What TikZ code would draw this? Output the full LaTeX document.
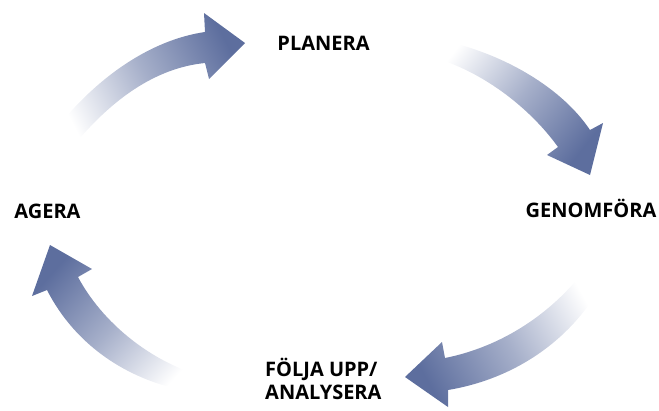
\documentclass[tikz,border=0pt]{standalone}
\usepackage{fontspec}
\setmainfont{Open Sans}
\definecolor{arrowblue}{RGB}{93,110,158}
\tikzset{
  lbl/.style={font=\fontsize{20}{23}\selectfont\bfseries, text=black, inner sep=0pt},
  arrowshade/.style={top color=arrowblue, bottom color=white, middle color=arrowblue!55, shading angle=#1, draw=none}
}
\begin{document}
\begin{tikzpicture}[x=1pt,y=-1pt]
\useasboundingbox (0,0) rectangle (659,410);
% arrow 1: top-left, towards PLANERA
\shade[arrowshade=-63]
  (52,134) .. controls (95,78) and (150,40) .. (205,32)
  -- (204,13) -- (245,43) -- (209,79) -- (205,63)
  .. controls (155,68) and (110,100) .. (70,150) -- cycle;
% arrow 2: top-right, towards GENOMFÖRA
\shade[arrowshade=-128]
  (425,37) .. controls (495,48) and (560,85) .. (590,130)
  -- (603,123) -- (590,175) -- (547,155) -- (558,147)
  .. controls (530,108) and (480,68) .. (424,55) -- cycle;
% arrow 3: bottom-right, towards FÖLJA UPP
\shade[arrowshade=119]
  (603,282) .. controls (575,335) and (520,378) .. (448,390)
  -- (448,407) -- (405,377) -- (442,342) -- (445,358)
  .. controls (510,345) and (560,305) .. (588,265) -- cycle;
% arrow 4: bottom-left, towards AGERA
\shade[arrowshade=48]
  (205,377) .. controls (150,362) and (102,322) .. (78,277)
  -- (92,269) -- (50,245) -- (32,296) -- (47,290)
  .. controls (75,345) and (130,385) .. (205,394) -- cycle;
\node[lbl, anchor=base] (planera) at (323.5,50) {PLANERA};
\node[lbl, anchor=base] (genomfora) at (591,217) {GENOMFÖRA};
\node[lbl, anchor=base] (agera) at (47.5,218) {AGERA};
\node[lbl, align=left, anchor=north west] (folja) at (265,358) {FÖLJA UPP/\\ANALYSERA};
\end{tikzpicture}
\end{document}
